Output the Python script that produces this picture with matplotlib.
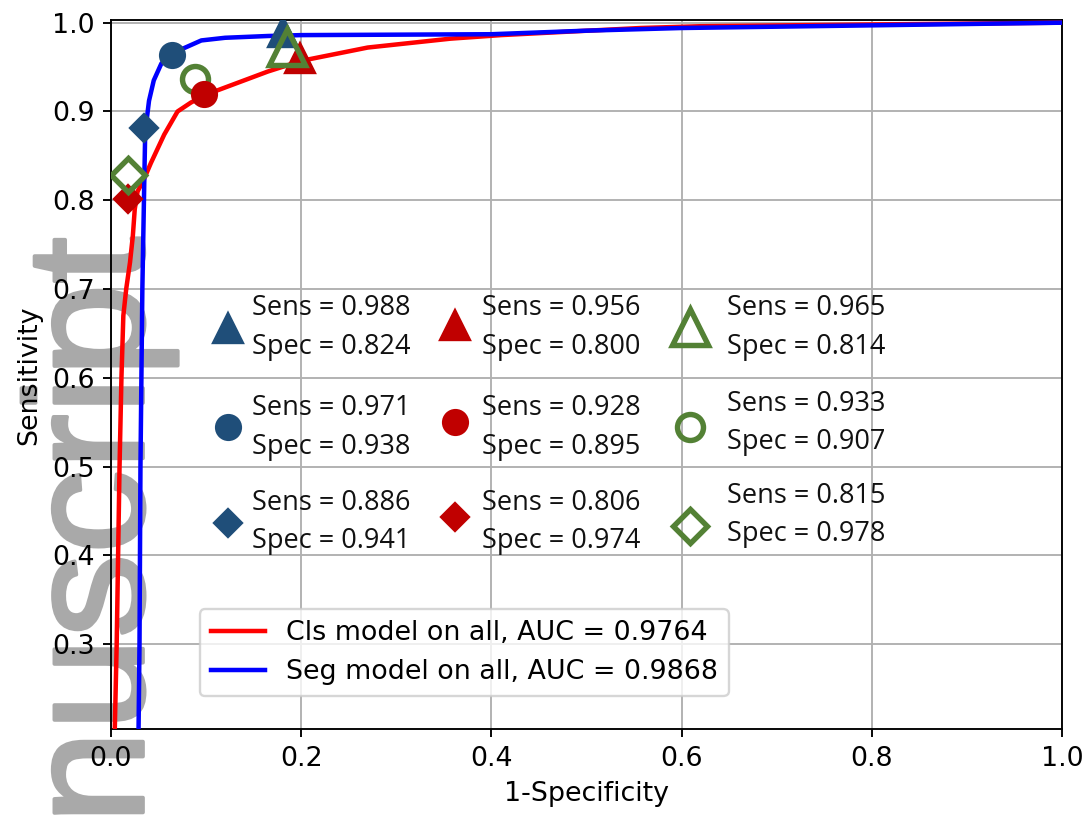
import numpy as np
import matplotlib
matplotlib.use('Agg')
import matplotlib.pyplot as plt
import matplotlib.patheffects as pe

# ROC curve of the classification model (red)
cls_fpr = [0.004, 0.006, 0.0075, 0.009, 0.011, 0.013, 0.016, 0.020, 0.023, 0.025, 0.028,
           0.034, 0.042, 0.056, 0.070, 0.084, 0.100, 0.130, 0.165, 0.200, 0.270, 0.357,
           0.410, 0.483, 0.557, 0.620, 0.800, 1.000]
cls_tpr = [0.204, 0.300, 0.400, 0.500, 0.600, 0.670, 0.700, 0.730, 0.760, 0.790, 0.810,
           0.822, 0.842, 0.874, 0.900, 0.910, 0.919, 0.931, 0.945, 0.957, 0.972, 0.982,
           0.986, 0.990, 0.994, 0.996, 0.998, 1.000]

# ROC curve of the segmentation model (blue)
seg_fpr = [0.029, 0.030, 0.031, 0.033, 0.035, 0.036, 0.040, 0.045, 0.053, 0.064, 0.074,
           0.095, 0.120, 0.165, 0.200, 0.400, 0.500, 0.600, 0.800, 1.000]
seg_tpr = [0.204, 0.300, 0.500, 0.700, 0.820, 0.877, 0.912, 0.935, 0.954, 0.964, 0.970,
           0.980, 0.983, 0.985, 0.986, 0.987, 0.991, 0.994, 0.997, 1.000]

legend_labels = ['Cls model on all, AUC = 0.9764', 'Seg model on all, AUC = 0.9868']

# operating points (triangle, circle, diamond) for each marker colour
blue_x = [0.181, 0.064, 0.035]
blue_y = [0.989, 0.964, 0.881]
red_x = [0.199, 0.098, 0.018]
red_y = [0.960, 0.920, 0.801]
green_x = [0.185, 0.088, 0.018]
green_y = [0.973, 0.937, 0.829]

# text of the boxes, rows = triangle, circle, diamond
blue_sens = ['0.988', '0.971', '0.886']
blue_spec = ['0.824', '0.938', '0.941']
red_sens = ['0.956', '0.928', '0.806']
red_spec = ['0.800', '0.895', '0.974']
green_sens = ['0.965', '0.933', '0.815']
green_spec = ['0.814', '0.907', '0.978']

c_blue = '#1F4E79'
c_red = '#C00000'
c_green = '#538135'

plt.rcParams['font.size'] = 11.4

fig = plt.figure(figsize=(1088/170, 817/170), dpi=170)
ax = fig.add_axes([0.102, 0.1071, 0.874, 0.8684])

ax.plot(cls_fpr, cls_tpr, color='red', lw=1.9, label=legend_labels[0], zorder=3)
ax.plot(seg_fpr, seg_tpr, color='blue', lw=1.9, label=legend_labels[1], zorder=3)

shapes = ['^', 'o', 'D']
sizes = [12.5, 10.5, 8.3]
open_sizes = [15, 11, 10]

def draw_marker(x, y, i, color, filled, z, transform=None):
    kw = {}
    if transform is not None:
        kw['transform'] = transform
        kw['clip_on'] = False
    if filled:
        ax.plot(x, y, marker=shapes[i], ms=sizes[i], color=color, ls='none', zorder=z, **kw)
    else:
        ax.plot(x, y, marker=shapes[i], ms=open_sizes[i], mfc='none', mec=color, mew=2.3,
                ls='none', zorder=z, **kw)

# markers on the curves
z_order = {'blue': [5, 5, 5], 'red': [6, 8, 6], 'green': [7, 7, 7]}
for i in range(3):
    draw_marker(blue_x[i], blue_y[i], i, c_blue, True, z_order['blue'][i])
    draw_marker(red_x[i], red_y[i], i, c_red, True, z_order['red'][i])
    draw_marker(green_x[i], green_y[i], i, c_green, False, z_order['green'][i])

# annotation boxes (axes coordinates)
col_marker = [0.123, 0.362, 0.609]
col_text = [0.148, 0.390, 0.648]
row_marker = [[0.566, 0.427, 0.291], [0.570, 0.433, 0.299], [0.568, 0.427, 0.287]]
row_sens = [[0.594, 0.453, 0.319], [0.594, 0.453, 0.319], [0.594, 0.459, 0.329]]
row_spec = [[0.539, 0.398, 0.266], [0.539, 0.398, 0.266], [0.539, 0.405, 0.275]]
groups = [(c_blue, True, blue_sens, blue_spec),
          (c_red, True, red_sens, red_spec),
          (c_green, False, green_sens, green_spec)]
for c, (color, filled, sens, spec) in enumerate(groups):
    for r in range(3):
        draw_marker(col_marker[c], row_marker[c][r], r, color, filled, 9, transform=ax.transAxes)
        ax.text(col_text[c], row_sens[c][r], 'Sens = ' + sens[r], transform=ax.transAxes,
                family='Open Sans', fontsize=11.5, va='center', ha='left', color='#111111')
        ax.text(col_text[c], row_spec[c][r], 'Spec = ' + spec[r], transform=ax.transAxes,
                family='Open Sans', fontsize=11.5, va='center', ha='left', color='#111111')

ax.set_xlim(0, 1.0)
ax.set_ylim(0.204, 1.003)
ax.set_yticks([0.3, 0.4, 0.5, 0.6, 0.7, 0.8, 0.9, 1.0])
ax.grid(True)
ax.set_axisbelow(True)
ax.set_xlabel('1-Specificity')
ax.set_ylabel('Sensitivity')
ax.legend(loc='lower left', bbox_to_anchor=(0.0936, 0.047), borderaxespad=0)

# watermark, under the curves and tick labels
ax.text(0.1314, -0.0086, 'nuscript', rotation=90, rotation_mode='anchor', ha='left',
        va='baseline', family='Liberation Sans', fontsize=71, color='#a9a9a9',
        transform=fig.transFigure, clip_on=False, zorder=0.4,
        path_effects=[pe.withStroke(linewidth=1.6, foreground='#a9a9a9')])

fig.savefig('out.png', dpi=170)
